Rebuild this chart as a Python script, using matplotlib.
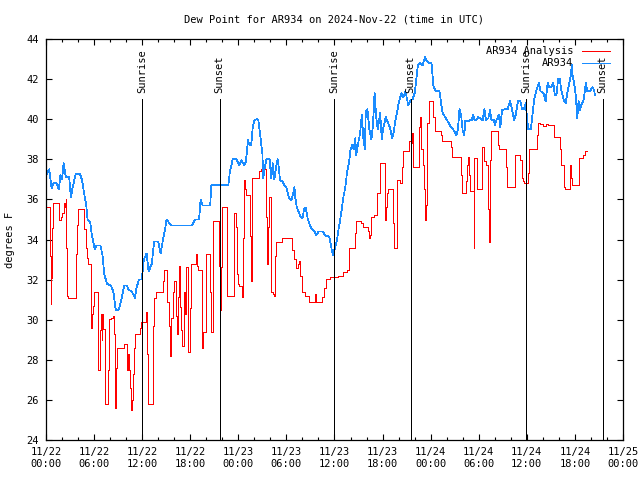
import matplotlib
matplotlib.use('Agg')
import matplotlib.pyplot as plt
import matplotlib.dates as mdates
import pandas as pd

start = pd.Timestamp('2024-11-22 00:00')

# hours since start, dew point (F) -- station obs (blue)
obs_hours = [0.0, 0.4, 0.7, 0.9, 1.3, 1.6, 1.8, 2.0, 2.2, 2.35,
             2.5, 2.9, 3.1, 3.3, 3.7, 4.25, 4.5, 4.75, 5.0, 5.2,
             5.5, 5.7, 5.9, 6.1, 6.3, 6.8, 7.1, 7.25, 7.6, 8.1,
             8.4, 8.6, 8.7, 9.1, 9.4, 9.75, 10.1, 10.3, 10.7, 11.1,
             11.3, 11.6, 11.9, 12.1, 12.2, 12.55, 12.8, 13.2, 13.5, 14.0,
             14.3, 14.6, 14.85, 15.05, 15.6, 18.2, 18.6, 19.1, 19.3, 19.55,
             20.5, 20.6, 22.75, 22.95, 23.3, 23.8, 24.1, 24.4, 24.75, 24.95,
             25.2, 25.4, 25.6, 25.8, 26.0, 26.3, 26.5, 26.7, 27.0, 27.1,
             27.3, 27.5, 27.9, 28.1, 28.3, 28.5, 28.7, 28.9, 29.05, 29.2,
             29.5, 29.75, 30.0, 30.3, 30.6, 30.85, 31.0, 31.1, 31.3, 31.6,
             31.8, 32.0, 32.2, 32.4, 32.65, 32.95, 33.2, 33.5, 33.7, 34.0,
             34.5, 34.85, 35.35, 35.6, 35.8, 36.0, 36.3, 36.5, 36.7, 36.9,
             37.1, 37.35, 37.55, 37.8, 38.0, 38.2, 38.4, 38.6, 38.7, 38.9,
             39.2, 39.4, 39.6, 39.8, 39.9, 40.1, 40.35, 40.6, 40.8, 41.0,
             41.2, 41.4, 41.7, 41.9, 42.1, 42.4, 42.6, 42.9, 43.2, 43.4,
             43.6, 43.8, 44.0, 44.35, 44.6, 44.85, 45.2, 45.5, 45.75, 46.0,
             46.2, 46.4, 46.7, 47.0, 47.3, 47.5, 47.8, 48.1, 48.25, 48.3,
             48.6, 49.1, 49.3, 49.5, 49.9, 50.25, 50.5, 50.8, 51.2, 51.4,
             51.6, 51.8, 52.0, 52.2, 52.3, 52.6, 52.9, 53.1, 53.3, 53.5,
             53.7, 53.9, 54.2, 54.5, 54.7, 54.9, 55.2, 55.4, 55.6, 55.9,
             56.0, 56.2, 56.5, 56.7, 56.9, 57.3, 57.6, 57.9, 58.15, 58.4,
             58.6, 58.9, 59.2, 59.4, 59.65, 59.85, 60.1, 60.15, 60.5, 60.7,
             60.9, 61.2, 61.5, 61.7, 62.1, 62.35, 62.6, 62.8, 63.05, 63.3,
             63.5, 63.7, 63.9, 64.1, 64.3, 64.6, 64.85, 65.05, 65.25, 65.5,
             65.6, 65.7, 65.9, 66.1, 66.3, 66.45, 66.6, 66.8, 67.05, 67.2,
             67.35, 67.55, 67.9, 68.2, 68.4, 68.5]
obs_dewpt = [37.2, 37.5, 36.55, 36.8, 36.8, 36.5, 37.2, 37.0, 37.8, 37.4,
             37.1, 37.1, 36.1, 36.55, 37.25, 37.25, 36.95, 36.3, 35.8, 34.95,
             34.9, 34.3, 33.9, 33.5, 33.7, 33.7, 33.1, 32.3, 31.8, 31.7,
             31.4, 30.8, 30.5, 30.5, 31.0, 31.7, 31.7, 31.5, 31.4, 31.1,
             31.6, 32.0, 32.0, 32.5, 33.0, 33.3, 32.4, 32.8, 33.9, 33.9,
             33.3, 34.0, 34.5, 35.0, 34.7, 34.7, 35.0, 35.0, 36.0, 35.7,
             35.7, 36.7, 36.7, 37.4, 38.0, 38.0, 37.7, 37.95, 37.7, 37.9,
             38.95, 38.7, 38.7, 39.6, 39.95, 40.0, 39.95, 39.3, 38.3, 37.05,
             37.6, 38.0, 38.0, 37.05, 37.8, 37.0, 37.6, 38.0, 37.6, 36.95,
             36.9, 36.7, 36.6, 36.1, 35.95, 36.3, 36.6, 36.1, 35.6, 35.3,
             35.1, 35.05, 35.5, 35.6, 35.05, 34.7, 34.5, 34.4, 34.2, 34.4,
             34.4, 34.2, 34.15, 33.6, 33.2, 33.5, 33.95, 34.5, 34.95, 35.5,
             36.1, 36.6, 37.3, 37.8, 38.5, 38.7, 38.5, 39.05, 38.2, 38.7,
             39.3, 40.2, 39.05, 38.5, 40.4, 40.5, 39.5, 39.0, 39.7, 41.3,
             40.1, 39.5, 40.3, 39.0, 39.6, 40.1, 39.9, 39.6, 39.05, 39.4,
             39.95, 40.3, 40.8, 41.3, 41.1, 41.4, 40.7, 40.95, 41.0, 41.3,
             41.95, 42.7, 42.8, 42.7, 43.1, 42.9, 42.8, 42.8, 42.1, 41.7,
             41.4, 41.4, 40.8, 40.3, 40.05, 39.8, 39.6, 39.5, 39.2, 39.5,
             40.5, 40.2, 39.4, 39.2, 39.9, 39.9, 39.95, 39.95, 40.2, 39.95,
             39.95, 40.1, 40.05, 39.95, 40.5, 39.95, 40.05, 40.45, 39.95, 39.95,
             39.7, 39.95, 40.2, 39.6, 40.45, 40.5, 40.5, 40.9, 40.5, 39.95,
             40.2, 40.9, 40.9, 40.5, 40.5, 40.8, 39.8, 39.5, 39.5, 40.2,
             40.95, 41.45, 41.8, 41.4, 41.3, 40.9, 41.8, 41.6, 41.6, 41.8,
             41.2, 41.2, 42.0, 42.0, 41.45, 40.95, 40.8, 41.3, 41.7, 42.2,
             42.7, 42.2, 41.8, 41.2, 40.05, 40.9, 40.45, 40.7, 40.9, 41.3,
             41.8, 41.4, 41.4, 41.6, 41.45, 41.2]

# analysis (red), step values
ana_hours = [0.0, 0.45, 0.6, 0.65, 0.75, 0.85, 1.6, 1.9, 2.0, 2.2,
             2.35, 2.45, 2.55, 2.65, 2.75, 3.7, 3.8, 3.9, 4.0, 4.75,
             5.0, 5.15, 5.3, 5.6, 5.7, 5.8, 5.9, 6.0, 6.5, 6.7,
             6.9, 7.0, 7.05, 7.15, 7.3, 7.75, 7.9, 8.1, 8.3, 8.45,
             8.55, 8.65, 8.75, 8.85, 9.75, 10.15, 10.25, 10.35, 10.5, 10.6,
             10.65, 10.75, 10.8, 10.95, 11.05, 11.75, 11.9, 12.5, 12.6, 12.7,
             13.3, 13.4, 13.5, 13.75, 14.6, 14.7, 15.05, 15.3, 15.45, 15.55,
             15.65, 15.8, 15.95, 16.25, 16.35, 16.45, 16.6, 16.7, 16.85, 16.95,
             17.25, 17.35, 17.45, 17.7, 18.0, 18.15, 18.7, 18.85, 19.0, 19.45,
             19.65, 19.95, 20.5, 20.6, 20.8, 21.55, 21.7, 21.8, 21.9, 22.6,
             23.5, 23.75, 23.8, 23.85, 23.95, 24.1, 24.4, 24.5, 24.6, 24.7,
             24.85, 24.95, 25.45, 25.55, 25.65, 25.75, 26.6, 26.85, 27.5, 27.6,
             27.7, 27.8, 28.05, 28.3, 28.45, 28.6, 28.7, 29.5, 30.75, 30.95,
             31.15, 31.45, 31.6, 31.75, 31.95, 32.35, 32.8, 33.55, 33.65, 34.5,
             34.65, 34.9, 35.5, 36.4, 37.0, 37.5, 37.8, 38.5, 38.7, 39.3,
             39.5, 40.2, 40.3, 40.4, 40.6, 40.9, 41.25, 41.65, 42.25, 42.4,
             42.5, 42.65, 43.35, 43.45, 43.8, 44.2, 44.4, 44.6, 45.25, 45.6,
             45.7, 45.75, 46.55, 46.7, 46.85, 47.1, 47.2, 47.3, 47.4, 47.5,
             47.6, 47.8, 48.25, 48.5, 49.3, 49.45, 50.5, 50.6, 51.75, 51.8,
             51.9, 52.4, 52.55, 52.7, 52.8, 52.9, 53.35, 53.4, 53.45, 53.75,
             54.35, 54.45, 54.7, 54.85, 55.2, 55.25, 55.35, 55.55, 56.4, 56.55,
             57.4, 57.55, 58.5, 59.2, 59.35, 59.5, 59.6, 60.15, 60.3, 61.25,
             61.4, 61.7, 62.0, 62.35, 62.65, 63.4, 64.1, 64.3, 64.6, 64.7,
             64.8, 65.35, 65.45, 65.55, 65.65, 66.45, 66.55, 67.05, 67.3, 67.5]
ana_dewpt = [35.6, 33.2, 30.8, 32.1, 34.55, 35.8, 34.97, 35.1, 35.3, 35.8,
             35.6, 36.0, 33.6, 31.2, 31.1, 31.8, 33.3, 34.7, 35.5, 34.5,
             33.6, 33.1, 32.8, 29.6, 29.97, 30.3, 30.7, 31.4, 27.5, 29.5,
             30.3, 29.0, 30.3, 29.55, 25.8, 27.5, 30.05, 30.1, 30.2, 29.3,
             26.8, 25.6, 27.6, 28.6, 28.8, 27.5, 28.3, 27.5, 26.6, 26.05,
             25.5, 26.0, 27.3, 28.6, 29.3, 29.6, 29.9, 30.4, 28.3, 25.8,
             27.2, 29.7, 31.1, 31.4, 31.95, 32.5, 30.9, 29.7, 28.2, 28.7,
             30.1, 31.4, 31.95, 30.2, 29.3, 31.15, 32.7, 30.65, 29.5, 28.7,
             31.4, 30.3, 32.65, 28.4, 30.6, 32.8, 33.3, 32.7, 32.5, 28.6,
             29.4, 33.3, 31.4, 29.4, 34.9, 32.7, 30.5, 32.65, 35.6, 31.2,
             35.3, 34.6, 34.15, 32.3, 31.8, 31.7, 31.5, 31.15, 34.05, 36.95,
             36.5, 36.2, 34.15, 31.95, 34.6, 37.05, 37.4, 37.5, 35.1, 32.8,
             34.6, 36.1, 31.4, 31.3, 31.2, 33.2, 33.9, 34.05, 33.5, 33.05,
             32.6, 32.8, 32.95, 32.2, 31.4, 31.2, 30.9, 31.3, 30.9, 31.15,
             31.6, 32.05, 32.15, 32.2, 32.4, 32.5, 33.6, 34.3, 34.9, 34.8,
             34.6, 34.4, 34.05, 34.2, 35.1, 35.2, 36.3, 37.8, 34.95, 35.6,
             36.3, 36.5, 34.8, 33.6, 36.95, 36.8, 37.6, 38.4, 38.9, 38.8,
             39.3, 37.6, 39.6, 40.1, 38.5, 37.7, 36.5, 34.95, 35.7, 36.3,
             39.8, 40.9, 40.1, 39.4, 39.2, 38.9, 38.6, 38.1, 38.05, 37.2,
             36.3, 36.9, 37.7, 38.1, 37.2, 36.4, 34.95, 33.6, 38.05, 36.5,
             38.05, 38.6, 37.9, 37.7, 35.5, 33.9, 37.95, 39.4, 38.7, 38.5,
             37.6, 36.6, 38.2, 37.95, 37.05, 36.9, 36.8, 37.3, 38.5, 39.2,
             39.8, 39.75, 39.65, 39.75, 39.7, 39.1, 38.5, 37.7, 37.1, 36.6,
             36.5, 37.7, 37.5, 37.05, 36.7, 37.6, 38.05, 38.2, 38.4, 38.4]

sun_hours = [12.0, 21.65, 36.0, 45.5, 59.95, 69.45]
sun_names = ['Sunrise', 'Sunset', 'Sunrise', 'Sunset', 'Sunrise', 'Sunset']

font = 'DejaVu Sans Mono'
fs = 7.5
lw = 0.72  # one pixel at 100 dpi

def to_time(h):
    return start + pd.to_timedelta(h, unit='h')

fig = plt.figure(figsize=(6.4, 4.8), dpi=100)
ax = fig.add_axes([46 / 640, 40 / 480, 577 / 640, 401 / 480])

ax.plot(to_time(ana_hours), ana_dewpt, color='#ff0000', lw=lw,
        drawstyle='steps-post', antialiased=False, label='AR934 Analysis')
ax.plot(to_time(obs_hours), obs_dewpt, color='#1a8cff', lw=0.55,
        antialiased=False, label='AR934')

for h, name in zip(sun_hours, sun_names):
    t = to_time(h)
    ax.plot([t, t], [24, 41.0], color='black', lw=lw, antialiased=False)
    ax.text(t, 41.3, name, rotation=90, ha='center', va='bottom',
            fontsize=fs, family=font)

ax.set_xlim(to_time(0), to_time(72))
ax.set_ylim(24, 44)
ax.set_yticks(range(24, 45, 2))
ax.xaxis.set_major_locator(mdates.HourLocator(byhour=[0, 6, 12, 18]))
ax.xaxis.set_minor_locator(mdates.HourLocator(byhour=range(0, 24, 2)))
ax.xaxis.set_major_formatter(mdates.DateFormatter('%m/%d\n%H:%M'))
ax.tick_params(which='both', direction='in', top=True, right=True,
               labelsize=fs, width=0.8)
ax.tick_params(which='major', length=4, pad=5)
ax.tick_params(which='minor', length=2.5)
for lab in ax.get_xticklabels() + ax.get_yticklabels():
    lab.set_family(font)
for sp in ax.spines.values():
    sp.set_linewidth(0.9)

ax.set_ylabel('degrees F', fontsize=fs, family=font, labelpad=8)
ax.set_title('Dew Point for AR934 on 2024-Nov-22 (time in UTC)',
             fontsize=fs, family=font, pad=12)

leg = ax.legend(loc='upper right', bbox_to_anchor=(0.9775, 0.982),
                frameon=False, markerfirst=False, alignment='right',
                prop={'family': font, 'size': fs}, handlelength=2.7,
                handletextpad=0.8, labelspacing=0.2, borderpad=0,
                borderaxespad=0)
for h in leg.get_lines():
    h.set_antialiased(False)
    h.set_linewidth(lw)

fig.savefig('out.png', dpi=100)
